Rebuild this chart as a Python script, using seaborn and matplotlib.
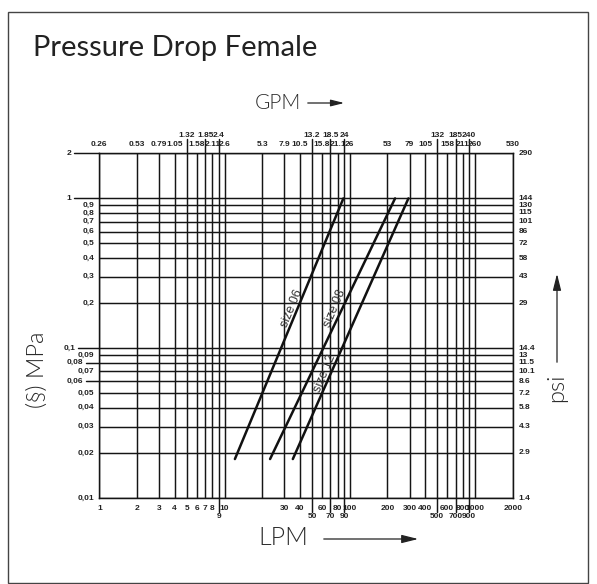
import numpy as np
import pandas as pd
import seaborn as sns
from matplotlib import pyplot as plt
from matplotlib.patches import Rectangle, FancyArrowPatch

# flow grid (LPM) and matching GPM labels on the top edge
lpm_ticks = [1, 2, 3, 4, 5, 6, 7, 8, 9, 10, 20, 30, 40, 50, 60, 70, 80, 90, 100,
             200, 300, 400, 500, 600, 700, 800, 900, 1000, 2000]
gpm_labels = ['0.26', '0.53', '0.79', '1.05', '1.32', '1.58', '1.85', '2.11', '2.4', '2.6',
              '5.3', '7.9', '10.5', '13.2', '15.8', '18.5', '21.1', '24', '26',
              '53', '79', '105', '132', '158', '185', '211', '240', '260', '530']
lpm_labels = ['1', '2', '3', '4', '5', '6', '7', '8', '9', '10', '', '30', '40', '50', '60', '70',
              '80', '90', '100', '200', '300', '400', '500', '600', '700', '800', '900', '1000', '2000']
staggered_lpm = [9, 50, 70, 90, 500, 700, 900]
staggered_gpm = [5, 7, 9, 50, 70, 90, 500, 700, 900]

# pressure grid (MPa) and psi labels on the right edge
mpa_ticks = [0.01, 0.02, 0.03, 0.04, 0.05, 0.06, 0.07, 0.08, 0.09, 0.1,
             0.2, 0.3, 0.4, 0.5, 0.6, 0.7, 0.8, 0.9, 1, 2]
mpa_labels = ['0,01', '0,02', '0,03', '0,04', '0,05', '0,06', '0,07', '0,08', '0,09', '0,1',
              '0,2', '0,3', '0,4', '0,5', '0,6', '0,7', '0,8', '0,9', '1', '2']
psi_labels = ['1.4', '2.9', '4.3', '5.8', '7.2', '8.6', '10.1', '11.5', '13', '14.4',
              '29', '43', '58', '72', '86', '101', '115', '130', '144', '290']
mpa_far = {2: 28, 1: 28, 0.1: 24, 0.08: 16, 0.06: 16}

# pressure drop curves
sizes = ['size 06', 'size 08', 'size 12']
flow_06 = [12.1, 88.9]
flow_08 = [23.1, 230]
flow_12 = [35.1, 294]
drop = [0.0182, 1.0]
label_pos = {'size 06': (34.6, 0.1855), 'size 08': (76.3, 0.1855), 'size 12': (63.5, 0.0683)}

df = pd.DataFrame({
    'lpm': flow_06 + flow_08 + flow_12,
    'mpa': drop * 3,
    'size': [s for s in sizes for _ in drop],
})

sns.set_theme(style='white')
plt.rcParams['font.family'] = ['Liberation Sans', 'DejaVu Sans']

W, H = 597, 584
fig = plt.figure(figsize=(W / 100, H / 100), dpi=100)
ax = fig.add_axes([99.3 / W, 1 - 498 / H, 413.4 / W, 344.7 / H])
ax.set_xscale('log')
ax.set_yscale('log')
ax.set_xlim(1, 2000)
ax.set_ylim(0.01, 2)

sns.lineplot(data=df, x='lpm', y='mpa', hue='size', palette=['#111111'] * 3,
             units='size', estimator=None, legend=False, lw=1.8, ax=ax)

ax.set_xticks(lpm_ticks)
ax.set_yticks(mpa_ticks)
ax.minorticks_off()
ax.set_xticklabels([])
ax.set_yticklabels([])
ax.tick_params(length=0)
ax.grid(True, color='#151515', lw=1.05)
for s in ax.spines.values():
    s.set_color('#151515')
    s.set_linewidth(1.05)
ax.set_xlabel('')
ax.set_ylabel('')

tk = dict(fontsize=6.0, fontweight='bold', color='#222222', annotation_clip=False)
xt = ax.get_xaxis_transform()
yt = ax.get_yaxis_transform()

# top GPM labels
for v, lab in zip(lpm_ticks, gpm_labels):
    up = v in staggered_gpm
    ax.annotate(lab, (v, 1), xycoords=xt, xytext=(0, 18 if up else 9), textcoords='offset pixels',
                ha='center', va='center', **tk)
    if up:
        ax.plot([v, v], [1, 1 + 14 / 344.7], transform=xt, color='#151515', lw=1.05, clip_on=False)

# bottom LPM labels
for v, lab in zip(lpm_ticks, lpm_labels):
    low = v in staggered_lpm
    ax.annotate(lab, (v, 0), xycoords=xt, xytext=(0, -18 if low else -10), textcoords='offset pixels',
                ha='center', va='center', **tk)
    if low:
        ax.plot([v, v], [0, -14 / 344.7], transform=xt, color='#151515', lw=1.05, clip_on=False)

# left MPa and right psi labels
for v, lab, plab in zip(mpa_ticks, mpa_labels, psi_labels):
    off = mpa_far.get(v, 5)
    ax.annotate(lab, (0, v), xycoords=yt, xytext=(-off, 0), textcoords='offset pixels',
                ha='right', va='center', **tk)
    if off > 5:
        ax.plot([0, -(off - 3) / 413.4], [v, v], transform=yt, color='#151515', lw=1.05, clip_on=False)
    ax.annotate(plab, (1, v), xycoords=yt, xytext=(6, 0), textcoords='offset pixels',
                ha='left', va='center', **tk)

# curve labels along the lines (reading upwards)
fig.canvas.draw()
p0 = ax.transData.transform((flow_06[0], drop[0]))
p1 = ax.transData.transform((flow_06[1], drop[1]))
angle = np.degrees(np.arctan2(abs(p1[1] - p0[1]), abs(p1[0] - p0[0])))
for s in sizes:
    x, y = label_pos[s]
    ax.text(x, y, s, rotation=angle, rotation_mode='anchor', ha='center', va='center',
            fontsize=9, color='#333333')

# frame, title and axis captions
light = dict(family=['Lato', 'DejaVu Sans'], fontweight=300, color='#2a2a2a')
fig.patches.append(Rectangle((8 / W, 1 - 583 / H), 580 / W, 571 / H, transform=fig.transFigure,
                             fill=False, ec='#444444', lw=1.0))
fig.text(33 / W, 1 - 48 / H, 'Pressure Drop Female', family=['Lato', 'DejaVu Sans'],
         fontsize=21, color='#222222', ha='left', va='center')

fig.text(278 / W, 1 - 103 / H, 'GPM', fontsize=15, ha='center', va='center', **light)
fig.patches.append(FancyArrowPatch(
    (305 / W, 1 - 103 / H), (347 / W, 1 - 103 / H), transform=fig.transFigure,
    arrowstyle='-|>,head_length=8,head_width=2', color='#222222', lw=0.9))

fig.text(283 / W, 1 - 538 / H, 'LPM', fontsize=18, ha='center', va='center', **light)
fig.patches.append(FancyArrowPatch(
    (321 / W, 1 - 539 / H), (421 / W, 1 - 539 / H), transform=fig.transFigure,
    arrowstyle='-|>,head_length=10,head_width=2.5', color='#222222', lw=0.9))

fig.text(37 / W, 1 - 370 / H, '(§) MPa', fontsize=17, rotation=90, ha='center', va='center', **light)
fig.text(557 / W, 1 - 388 / H, 'psi', fontsize=17, rotation=90, ha='center', va='center', **light)
fig.patches.append(FancyArrowPatch(
    (557 / W, 1 - 365 / H), (557 / W, 1 - 271 / H), transform=fig.transFigure,
    arrowstyle='-|>,head_length=10,head_width=2.5', color='#222222', lw=0.9))

fig.savefig('out.png', dpi=100, facecolor='white')
